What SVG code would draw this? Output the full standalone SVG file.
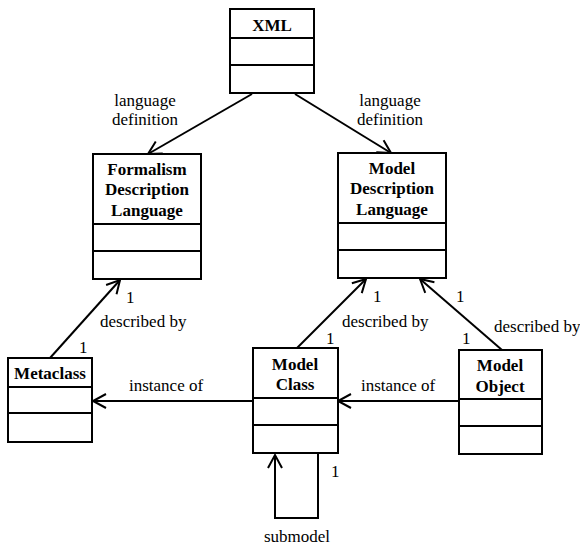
<svg xmlns="http://www.w3.org/2000/svg" width="580" height="546" viewBox="0 0 580 546">
<defs>
<marker id="arr" markerUnits="userSpaceOnUse" markerWidth="20" markerHeight="20" refX="0" refY="0" orient="auto" overflow="visible">
<path d="M -13 -7 L 0 0 L -13 7" fill="none" stroke="#000" stroke-width="2"/>
</marker>
</defs>
<rect width="580" height="546" fill="#fff"/>
<g id="connectors" fill="none" stroke="#000" stroke-width="2">
<line x1="252" y1="94" x2="148" y2="154" marker-end="url(#arr)"/>
<line x1="295" y1="94" x2="391" y2="153" marker-end="url(#arr)"/>
<line x1="50" y1="358" x2="120" y2="280" marker-end="url(#arr)"/>
<line x1="297" y1="348" x2="366" y2="279" marker-end="url(#arr)"/>
<line x1="502" y1="350" x2="420" y2="279" marker-end="url(#arr)"/>
<line x1="253" y1="401" x2="93" y2="401" marker-end="url(#arr)"/>
<line x1="459" y1="401" x2="338" y2="401" marker-end="url(#arr)"/>
<polyline points="318,453 318,518 275,518 275,455" marker-end="url(#arr)"/>
</g>
<g id="labels" fill="#000" stroke="none" font-family="'Liberation Serif', 'Times New Roman', Times, serif" font-size="17">
<text x="145" y="106" text-anchor="middle">language</text>
<text x="145" y="125" text-anchor="middle">definition</text>
<text x="390" y="106" text-anchor="middle">language</text>
<text x="390" y="125" text-anchor="middle">definition</text>
<text x="100" y="327">described by</text>
<text x="126" y="303">1</text>
<text x="79" y="353">1</text>
<text x="342" y="327">described by</text>
<text x="373" y="302">1</text>
<text x="326" y="344">1</text>
<text x="494" y="332">described by</text>
<text x="456" y="302">1</text>
<text x="462" y="344">1</text>
<text x="129" y="391">instance of</text>
<text x="361" y="391">instance of</text>
<text x="331" y="477">1</text>
<text x="297" y="542" text-anchor="middle">submodel</text>
</g>
<g id="xml" font-family="'Liberation Serif', 'Times New Roman', Times, serif" font-size="17" font-weight="bold" text-anchor="middle">
<rect x="230" y="9" width="84" height="84" fill="#fff" stroke="#000" stroke-width="2"/>
<path d="M230 38H314M230 65H314" stroke="#000" stroke-width="2"/>
<text x="272" y="31">XML</text>
</g>
<g id="formalism" font-family="'Liberation Serif', 'Times New Roman', Times, serif" font-size="17" font-weight="bold" text-anchor="middle">
<rect x="93" y="154" width="108" height="125" fill="#fff" stroke="#000" stroke-width="2"/>
<path d="M93 224H201M93 251H201" stroke="#000" stroke-width="2"/>
<text x="147" y="175">Formalism</text>
<text x="147" y="195">Description</text>
<text x="147" y="216">Language</text>
</g>
<g id="modeldesc" font-family="'Liberation Serif', 'Times New Roman', Times, serif" font-size="17" font-weight="bold" text-anchor="middle">
<rect x="338" y="153" width="108" height="125" fill="#fff" stroke="#000" stroke-width="2"/>
<path d="M338 223H446M338 250H446" stroke="#000" stroke-width="2"/>
<text x="392" y="174">Model</text>
<text x="392" y="194">Description</text>
<text x="392" y="215">Language</text>
</g>
<g id="metaclass" font-family="'Liberation Serif', 'Times New Roman', Times, serif" font-size="17" font-weight="bold" text-anchor="middle">
<rect x="8" y="358" width="84" height="84" fill="#fff" stroke="#000" stroke-width="2"/>
<path d="M8 387H92M8 413H92" stroke="#000" stroke-width="2"/>
<text x="50" y="379">Metaclass</text>
</g>
<g id="modelclass" font-family="'Liberation Serif', 'Times New Roman', Times, serif" font-size="17" font-weight="bold" text-anchor="middle">
<rect x="253" y="348" width="85" height="105" fill="#fff" stroke="#000" stroke-width="2"/>
<path d="M253 398H338M253 425H338" stroke="#000" stroke-width="2"/>
<text x="295" y="370">Model</text>
<text x="295" y="390">Class</text>
</g>
<g id="modelobject" font-family="'Liberation Serif', 'Times New Roman', Times, serif" font-size="17" font-weight="bold" text-anchor="middle">
<rect x="459" y="350" width="83" height="104" fill="#fff" stroke="#000" stroke-width="2"/>
<path d="M459 399H542M459 426H542" stroke="#000" stroke-width="2"/>
<text x="500" y="371">Model</text>
<text x="500" y="392">Object</text>
</g>
</svg>
